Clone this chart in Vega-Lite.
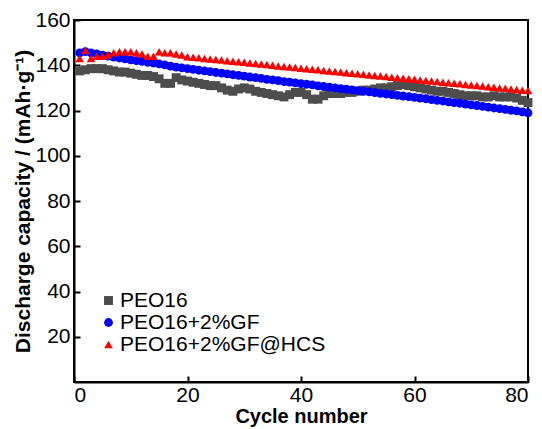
{
  "$schema": "https://vega.github.io/schema/vega-lite/v6.json",
  "width": 454,
  "height": 362,
  "autosize": "none",
  "padding": {"left": 74, "top": 20, "right": 14, "bottom": 47},
  "background": "white",
  "config": {
    "font": "Liberation Sans",
    "view": {"stroke": "black", "strokeWidth": 2},
    "axis": {"grid": false, "domainColor": "black", "domainWidth": 2, "tickColor": "black", "tickWidth": 2, "labelColor": "black", "titleColor": "black", "labelFontSize": 21, "titleFontSize": 21, "titleFontWeight": "bold", "labelFont": "Liberation Sans", "titleFont": "Liberation Sans"}
  },
  "datasets": {
    "d": [
      {"c":1,"s":"PEO16","v":137.5},{"c":2,"s":"PEO16","v":138},{"c":3,"s":"PEO16","v":138.5},{"c":4,"s":"PEO16","v":138.5},{"c":5,"s":"PEO16","v":138.5},{"c":6,"s":"PEO16","v":138},{"c":7,"s":"PEO16","v":137.5},{"c":8,"s":"PEO16","v":137},{"c":9,"s":"PEO16","v":137},{"c":10,"s":"PEO16","v":136.5},
      {"c":11,"s":"PEO16","v":136},{"c":12,"s":"PEO16","v":135.5},{"c":13,"s":"PEO16","v":135.5},{"c":14,"s":"PEO16","v":135},{"c":15,"s":"PEO16","v":134},{"c":16,"s":"PEO16","v":132},{"c":17,"s":"PEO16","v":132},{"c":18,"s":"PEO16","v":134.5},{"c":19,"s":"PEO16","v":133.5},{"c":20,"s":"PEO16","v":133},
      {"c":21,"s":"PEO16","v":132.5},{"c":22,"s":"PEO16","v":132},{"c":23,"s":"PEO16","v":131.5},{"c":24,"s":"PEO16","v":131},{"c":25,"s":"PEO16","v":131},{"c":26,"s":"PEO16","v":130},{"c":27,"s":"PEO16","v":129},{"c":28,"s":"PEO16","v":128.5},{"c":29,"s":"PEO16","v":129.5},{"c":30,"s":"PEO16","v":130},
      {"c":31,"s":"PEO16","v":129.5},{"c":32,"s":"PEO16","v":128.5},{"c":33,"s":"PEO16","v":128},{"c":34,"s":"PEO16","v":127.5},{"c":35,"s":"PEO16","v":127},{"c":36,"s":"PEO16","v":126.5},{"c":37,"s":"PEO16","v":126},{"c":38,"s":"PEO16","v":127},{"c":39,"s":"PEO16","v":128},{"c":40,"s":"PEO16","v":128},
      {"c":41,"s":"PEO16","v":127},{"c":42,"s":"PEO16","v":125},{"c":43,"s":"PEO16","v":125},{"c":44,"s":"PEO16","v":126.5},{"c":45,"s":"PEO16","v":127.5},{"c":46,"s":"PEO16","v":127.5},{"c":47,"s":"PEO16","v":127.5},{"c":48,"s":"PEO16","v":128},{"c":49,"s":"PEO16","v":128},{"c":50,"s":"PEO16","v":128.5},
      {"c":51,"s":"PEO16","v":129},{"c":52,"s":"PEO16","v":129},{"c":53,"s":"PEO16","v":129.5},{"c":54,"s":"PEO16","v":130},{"c":55,"s":"PEO16","v":130},{"c":56,"s":"PEO16","v":130.5},{"c":57,"s":"PEO16","v":131},{"c":58,"s":"PEO16","v":131.5},{"c":59,"s":"PEO16","v":131},{"c":60,"s":"PEO16","v":130.5},
      {"c":61,"s":"PEO16","v":130},{"c":62,"s":"PEO16","v":129.5},{"c":63,"s":"PEO16","v":129},{"c":64,"s":"PEO16","v":128.5},{"c":65,"s":"PEO16","v":128.5},{"c":66,"s":"PEO16","v":128},{"c":67,"s":"PEO16","v":127.5},{"c":68,"s":"PEO16","v":127},{"c":69,"s":"PEO16","v":126.5},{"c":70,"s":"PEO16","v":126.5},
      {"c":71,"s":"PEO16","v":126.5},{"c":72,"s":"PEO16","v":126},{"c":73,"s":"PEO16","v":126},{"c":74,"s":"PEO16","v":126.5},{"c":75,"s":"PEO16","v":126},{"c":76,"s":"PEO16","v":126},{"c":77,"s":"PEO16","v":126},{"c":78,"s":"PEO16","v":125.5},{"c":79,"s":"PEO16","v":124.5},{"c":80,"s":"PEO16","v":123.5},
      {"c":1,"s":"PEO16+2%GF","v":145.5},{"c":2,"s":"PEO16+2%GF","v":146},{"c":3,"s":"PEO16+2%GF","v":145.5},{"c":4,"s":"PEO16+2%GF","v":145},{"c":5,"s":"PEO16+2%GF","v":144.5},{"c":6,"s":"PEO16+2%GF","v":144},{"c":7,"s":"PEO16+2%GF","v":143.6},{"c":8,"s":"PEO16+2%GF","v":143.2},{"c":9,"s":"PEO16+2%GF","v":142.8},{"c":10,"s":"PEO16+2%GF","v":142.4},
      {"c":11,"s":"PEO16+2%GF","v":142},{"c":12,"s":"PEO16+2%GF","v":141.7},{"c":13,"s":"PEO16+2%GF","v":141.3},{"c":14,"s":"PEO16+2%GF","v":141},{"c":15,"s":"PEO16+2%GF","v":140.6},{"c":16,"s":"PEO16+2%GF","v":140.2},{"c":17,"s":"PEO16+2%GF","v":139.6},{"c":18,"s":"PEO16+2%GF","v":139.2},{"c":19,"s":"PEO16+2%GF","v":138.8},{"c":20,"s":"PEO16+2%GF","v":138.5},
      {"c":21,"s":"PEO16+2%GF","v":138.2},{"c":22,"s":"PEO16+2%GF","v":137.8},{"c":23,"s":"PEO16+2%GF","v":137.5},{"c":24,"s":"PEO16+2%GF","v":137.2},{"c":25,"s":"PEO16+2%GF","v":136.8},{"c":26,"s":"PEO16+2%GF","v":136.5},{"c":27,"s":"PEO16+2%GF","v":136.2},{"c":28,"s":"PEO16+2%GF","v":135.8},{"c":29,"s":"PEO16+2%GF","v":135.5},{"c":30,"s":"PEO16+2%GF","v":135.2},
      {"c":31,"s":"PEO16+2%GF","v":134.8},{"c":32,"s":"PEO16+2%GF","v":134.5},{"c":33,"s":"PEO16+2%GF","v":134.2},{"c":34,"s":"PEO16+2%GF","v":133.8},{"c":35,"s":"PEO16+2%GF","v":133.5},{"c":36,"s":"PEO16+2%GF","v":133.2},{"c":37,"s":"PEO16+2%GF","v":132.8},{"c":38,"s":"PEO16+2%GF","v":132.5},{"c":39,"s":"PEO16+2%GF","v":132.2},{"c":40,"s":"PEO16+2%GF","v":131.9},
      {"c":41,"s":"PEO16+2%GF","v":131.6},{"c":42,"s":"PEO16+2%GF","v":131.3},{"c":43,"s":"PEO16+2%GF","v":130.9},{"c":44,"s":"PEO16+2%GF","v":130.6},{"c":45,"s":"PEO16+2%GF","v":130.3},{"c":46,"s":"PEO16+2%GF","v":130},{"c":47,"s":"PEO16+2%GF","v":129.7},{"c":48,"s":"PEO16+2%GF","v":129.4},{"c":49,"s":"PEO16+2%GF","v":129.1},{"c":50,"s":"PEO16+2%GF","v":128.8},
      {"c":51,"s":"PEO16+2%GF","v":128.5},{"c":52,"s":"PEO16+2%GF","v":128.2},{"c":53,"s":"PEO16+2%GF","v":127.9},{"c":54,"s":"PEO16+2%GF","v":127.6},{"c":55,"s":"PEO16+2%GF","v":127.3},{"c":56,"s":"PEO16+2%GF","v":127},{"c":57,"s":"PEO16+2%GF","v":126.7},{"c":58,"s":"PEO16+2%GF","v":126.4},{"c":59,"s":"PEO16+2%GF","v":126.1},{"c":60,"s":"PEO16+2%GF","v":125.8},
      {"c":61,"s":"PEO16+2%GF","v":125.5},{"c":62,"s":"PEO16+2%GF","v":125.2},{"c":63,"s":"PEO16+2%GF","v":124.8},{"c":64,"s":"PEO16+2%GF","v":124.5},{"c":65,"s":"PEO16+2%GF","v":124.2},{"c":66,"s":"PEO16+2%GF","v":123.8},{"c":67,"s":"PEO16+2%GF","v":123.5},{"c":68,"s":"PEO16+2%GF","v":123.2},{"c":69,"s":"PEO16+2%GF","v":122.8},{"c":70,"s":"PEO16+2%GF","v":122.5},
      {"c":71,"s":"PEO16+2%GF","v":122.2},{"c":72,"s":"PEO16+2%GF","v":121.8},{"c":73,"s":"PEO16+2%GF","v":121.5},{"c":74,"s":"PEO16+2%GF","v":121.1},{"c":75,"s":"PEO16+2%GF","v":120.8},{"c":76,"s":"PEO16+2%GF","v":120.5},{"c":77,"s":"PEO16+2%GF","v":120.1},{"c":78,"s":"PEO16+2%GF","v":119.8},{"c":79,"s":"PEO16+2%GF","v":119.4},{"c":80,"s":"PEO16+2%GF","v":119},
      {"c":1,"s":"PEO16+2%GF@HCS","v":143},{"c":2,"s":"PEO16+2%GF@HCS","v":146.5},{"c":3,"s":"PEO16+2%GF@HCS","v":143},{"c":4,"s":"PEO16+2%GF@HCS","v":144},{"c":5,"s":"PEO16+2%GF@HCS","v":144},{"c":6,"s":"PEO16+2%GF@HCS","v":144.5},{"c":7,"s":"PEO16+2%GF@HCS","v":145.5},{"c":8,"s":"PEO16+2%GF@HCS","v":146},{"c":9,"s":"PEO16+2%GF@HCS","v":146},{"c":10,"s":"PEO16+2%GF@HCS","v":146},
      {"c":11,"s":"PEO16+2%GF@HCS","v":145.5},{"c":12,"s":"PEO16+2%GF@HCS","v":145},{"c":13,"s":"PEO16+2%GF@HCS","v":144},{"c":14,"s":"PEO16+2%GF@HCS","v":144},{"c":15,"s":"PEO16+2%GF@HCS","v":146},{"c":16,"s":"PEO16+2%GF@HCS","v":145.5},{"c":17,"s":"PEO16+2%GF@HCS","v":145.5},{"c":18,"s":"PEO16+2%GF@HCS","v":145},{"c":19,"s":"PEO16+2%GF@HCS","v":144.5},{"c":20,"s":"PEO16+2%GF@HCS","v":143.8},
      {"c":21,"s":"PEO16+2%GF@HCS","v":143.5},{"c":22,"s":"PEO16+2%GF@HCS","v":143.3},{"c":23,"s":"PEO16+2%GF@HCS","v":143},{"c":24,"s":"PEO16+2%GF@HCS","v":142.8},{"c":25,"s":"PEO16+2%GF@HCS","v":142.5},{"c":26,"s":"PEO16+2%GF@HCS","v":142.3},{"c":27,"s":"PEO16+2%GF@HCS","v":142},{"c":28,"s":"PEO16+2%GF@HCS","v":141.8},{"c":29,"s":"PEO16+2%GF@HCS","v":141.5},{"c":30,"s":"PEO16+2%GF@HCS","v":141.3},
      {"c":31,"s":"PEO16+2%GF@HCS","v":141},{"c":32,"s":"PEO16+2%GF@HCS","v":140.8},{"c":33,"s":"PEO16+2%GF@HCS","v":140.5},{"c":34,"s":"PEO16+2%GF@HCS","v":140.3},{"c":35,"s":"PEO16+2%GF@HCS","v":140},{"c":36,"s":"PEO16+2%GF@HCS","v":139.7},{"c":37,"s":"PEO16+2%GF@HCS","v":139.5},{"c":38,"s":"PEO16+2%GF@HCS","v":139.2},{"c":39,"s":"PEO16+2%GF@HCS","v":139},{"c":40,"s":"PEO16+2%GF@HCS","v":138.7},
      {"c":41,"s":"PEO16+2%GF@HCS","v":138.5},{"c":42,"s":"PEO16+2%GF@HCS","v":138.2},{"c":43,"s":"PEO16+2%GF@HCS","v":138},{"c":44,"s":"PEO16+2%GF@HCS","v":137.7},{"c":45,"s":"PEO16+2%GF@HCS","v":137.5},{"c":46,"s":"PEO16+2%GF@HCS","v":137.2},{"c":47,"s":"PEO16+2%GF@HCS","v":137},{"c":48,"s":"PEO16+2%GF@HCS","v":136.7},{"c":49,"s":"PEO16+2%GF@HCS","v":136.5},{"c":50,"s":"PEO16+2%GF@HCS","v":136.2},
      {"c":51,"s":"PEO16+2%GF@HCS","v":136},{"c":52,"s":"PEO16+2%GF@HCS","v":135.7},{"c":53,"s":"PEO16+2%GF@HCS","v":135.5},{"c":54,"s":"PEO16+2%GF@HCS","v":135.2},{"c":55,"s":"PEO16+2%GF@HCS","v":135},{"c":56,"s":"PEO16+2%GF@HCS","v":134.7},{"c":57,"s":"PEO16+2%GF@HCS","v":134.5},{"c":58,"s":"PEO16+2%GF@HCS","v":134.2},{"c":59,"s":"PEO16+2%GF@HCS","v":134},{"c":60,"s":"PEO16+2%GF@HCS","v":133.8},
      {"c":61,"s":"PEO16+2%GF@HCS","v":133.5},{"c":62,"s":"PEO16+2%GF@HCS","v":133.3},{"c":63,"s":"PEO16+2%GF@HCS","v":133},{"c":64,"s":"PEO16+2%GF@HCS","v":132.8},{"c":65,"s":"PEO16+2%GF@HCS","v":132.5},{"c":66,"s":"PEO16+2%GF@HCS","v":132.3},{"c":67,"s":"PEO16+2%GF@HCS","v":132},{"c":68,"s":"PEO16+2%GF@HCS","v":131.8},{"c":69,"s":"PEO16+2%GF@HCS","v":131.5},{"c":70,"s":"PEO16+2%GF@HCS","v":131.3},
      {"c":71,"s":"PEO16+2%GF@HCS","v":131},{"c":72,"s":"PEO16+2%GF@HCS","v":130.8},{"c":73,"s":"PEO16+2%GF@HCS","v":130.5},{"c":74,"s":"PEO16+2%GF@HCS","v":130.3},{"c":75,"s":"PEO16+2%GF@HCS","v":130},{"c":76,"s":"PEO16+2%GF@HCS","v":129.8},{"c":77,"s":"PEO16+2%GF@HCS","v":129.5},{"c":78,"s":"PEO16+2%GF@HCS","v":129.3},{"c":79,"s":"PEO16+2%GF@HCS","v":129},{"c":80,"s":"PEO16+2%GF@HCS","v":128.8}
    ]
  },
  "data": {"name": "d"},
  "mark": {"type": "point", "filled": true, "opacity": 1, "clip": false},
  "encoding": {
    "x": {"field": "c", "type": "quantitative", "scale": {"domain": [0, 80], "nice": false},
      "axis": {"title": "Cycle number", "titleFontSize": 20, "values": [0, 20, 40, 60, 80], "tickSize": -6, "labelPadding": 8, "titlePadding": 1}},
    "y": {"field": "v", "type": "quantitative", "scale": {"domain": [0, 160], "nice": false},
      "axis": {"title": "Discharge capacity / (mAh·g⁻¹)", "values": [20, 40, 60, 80, 100, 120, 140, 160], "tickSize": -6, "labelPadding": 10, "titlePadding": 1}},
    "color": {"field": "s", "type": "nominal", "scale": {"domain": ["PEO16", "PEO16+2%GF", "PEO16+2%GF@HCS"], "range": ["#4d4d4d", "#0000ff", "#ff0000"]},
      "legend": {"title": null, "orient": "none", "legendX": 24, "legendY": 270, "labelFontSize": 21, "labelLimit": 400, "labelColor": "black", "rowPadding": 0, "symbolSize": 75, "labelOffset": 1, "symbolStrokeWidth": 0}},
    "shape": {"field": "s", "type": "nominal", "scale": {"domain": ["PEO16", "PEO16+2%GF", "PEO16+2%GF@HCS"], "range": ["square", "circle", "triangle-up"]}},
    "size": {"field": "s", "type": "nominal", "scale": {"domain": ["PEO16", "PEO16+2%GF", "PEO16+2%GF@HCS"], "range": [80, 75, 110]}, "legend": null}
  }
}
